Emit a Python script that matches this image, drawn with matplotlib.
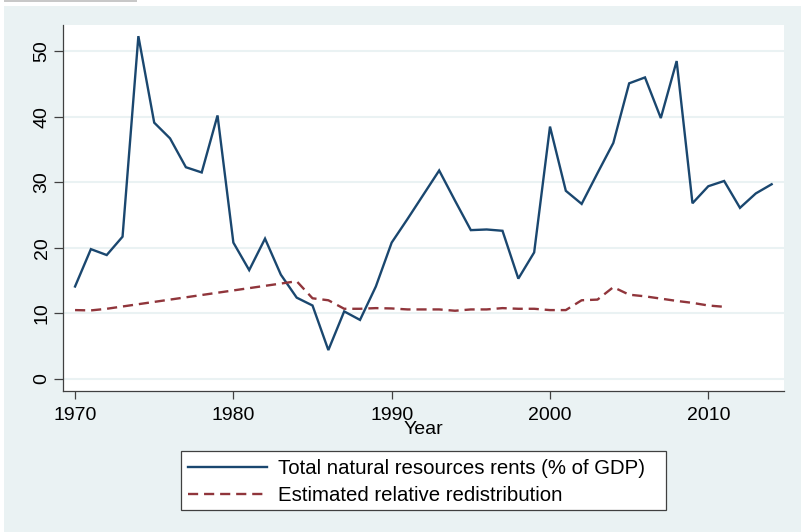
import matplotlib
matplotlib.use("Agg")
import matplotlib.pyplot as plt
from matplotlib.patches import Rectangle

plt.rcParams['font.family'] = ['Liberation Sans', 'DejaVu Sans']

years = list(range(1970, 2015))
rents = [14.1, 19.8, 18.9, 21.7, 52.3, 39.1, 36.7, 32.3, 31.5, 40.2,
         20.8, 16.6, 21.4, 15.9, 12.4, 11.2, 4.4, 10.3, 9.0, 14.1,
         20.8, 24.4, 28.1, 31.8, 27.2, 22.7, 22.8, 22.6, 15.3, 19.3,
         38.5, 28.7, 26.7, 31.4, 36.0, 45.1, 46.0, 39.8, 48.5, 26.8,
         29.4, 30.2, 26.1, 28.3, 29.7]
redist_years = list(range(1970, 2012))
redist = [10.5, 10.45, 10.7, 11.05, 11.4, 11.75, 12.1, 12.45, 12.8, 13.15,
          13.5, 13.85, 14.2, 14.55, 14.9, 12.3, 12.0, 10.7, 10.7, 10.8,
          10.75, 10.6, 10.6, 10.6, 10.4, 10.6, 10.6, 10.8, 10.7, 10.7,
          10.5, 10.5, 12.0, 12.1, 14.0, 12.85, 12.6, 12.25, 11.9, 11.6,
          11.2, 11.0]
x_ticks = [1970, 1980, 1990, 2000, 2010]
y_ticks = [0, 10, 20, 30, 40, 50]
series_labels = ["Total natural resources rents (% of GDP)",
                 "Estimated relative redistribution"]

W, H = 801, 532
bg = "#EAF2F3"
navy = "#1A476F"
maroon = "#90353B"
edge = "#404040"


def fx(px):
    return px / W


def fy(py):
    return 1 - py / H


fig = plt.figure(figsize=(W / 100, H / 100), dpi=100, facecolor="white")
# graph region background
fig.patches.append(Rectangle((fx(4), 0), 1 - fx(4), fy(6),
                             transform=fig.transFigure, facecolor=bg,
                             edgecolor="none", zorder=-10))
fig.patches.append(Rectangle((fx(4), fy(2)), fx(133), 2 / H,
                             transform=fig.transFigure, facecolor="#C8C8C8",
                             edgecolor="none", zorder=-9))

ax = fig.add_axes([fx(62.7), fy(390.7), fx(784.3 - 62.7), (390.7 - 25) / H])
ax.set_facecolor("white")

ax.plot(years, rents, color=navy, lw=1.7, label=series_labels[0],
        solid_joinstyle="miter")
ax.plot(redist_years, redist, color=maroon, lw=1.7, linestyle=(0, (4.3, 2.5)),
        label=series_labels[1])

ax.set_xlim(1969.22, 2014.8)
ax.set_ylim(-1.8, 54.0)
ax.set_xticks(x_ticks)
ax.set_yticks(y_ticks)
ax.grid(axis="y", color=bg, lw=1.5)
ax.set_axisbelow(True)

for s in ("top", "right"):
    ax.spines[s].set_visible(False)
for s in ("left", "bottom"):
    ax.spines[s].set_color(edge)
    ax.spines[s].set_linewidth(0.9)

ax.tick_params(axis="x", length=5.4, width=0.9, color=edge,
               labelsize=14, pad=6)
ax.tick_params(axis="y", length=6.7, width=0.9, color=edge,
               labelsize=14, pad=2, labelrotation=90)
for lab in ax.get_yticklabels():
    lab.set_va("center")

ax.set_xlabel("Year", fontsize=14, labelpad=-2)

# legend box drawn separately so its padding can be set freely
fig.patches.append(Rectangle((fx(180.7), fy(510)), fx(666 - 180.7),
                             (510 - 450.7) / H, transform=fig.transFigure,
                             facecolor="white", edgecolor=edge, lw=0.9,
                             zorder=1))
leg = fig.legend(loc="upper left", bbox_to_anchor=(fx(188.3), fy(459.5)),
                 fontsize=14.7, frameon=False, ncol=1,
                 handlelength=3.85, handletextpad=0.52, borderpad=0,
                 labelspacing=0.35, borderaxespad=0)
leg.set_zorder(2)

fig.savefig("out.png", dpi=100, facecolor="white")
